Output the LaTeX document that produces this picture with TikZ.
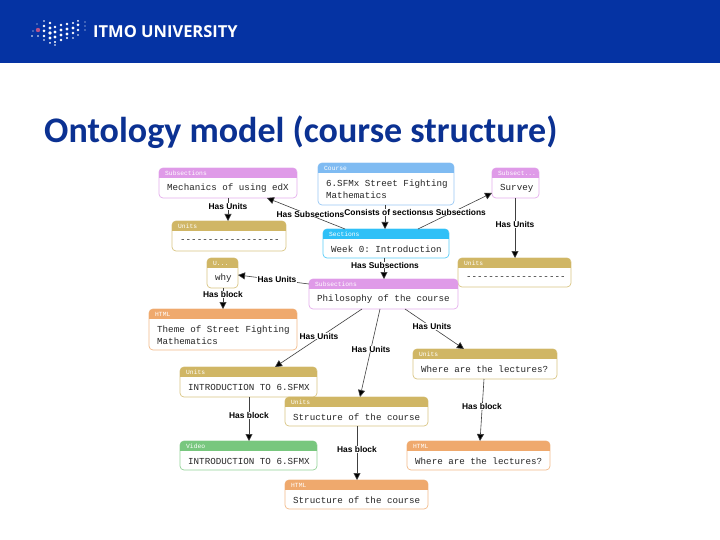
\documentclass[tikz,border=0pt]{standalone}
\usepackage{fontspec}
\usetikzlibrary{arrows.meta}
\setmainfont{Liberation Sans}
\setmonofont{Liberation Mono}
\newfontfamily\titlefont{Carlito}
\newfontfamily\logofont{Open Sans}
\definecolor{hdrblue}{HTML}{0533A3}
\definecolor{titleblue}{HTML}{0B3192}
\definecolor{cpurple}{HTML}{DF9AE8}
\definecolor{cgold}{HTML}{D0B665}
\definecolor{corange}{HTML}{EFA96D}
\definecolor{cgreen}{HTML}{78C77E}
\definecolor{cblue}{HTML}{7FBBF2}
\definecolor{ccyan}{HTML}{2FC0F7}
\newcommand{\umlbox}[8]{% name x1 y1 x2 y2 colour title text
  \node[umlnode,fill=white,draw=#6!80!white,minimum width={(#4-#2)*1pt},minimum height={(#5-#3)*1pt}] (#1) at ({(#2+#4)/2},{(#3+#5)/2}) {};
  \begin{scope}
    \clip[rounded corners=4pt] (#2,#3) rectangle (#4,#5);
    \fill[#6] (#2,#3) rectangle (#4,#3+10);
  \end{scope}
  \node[umltitle] (#1t) at (#2+6,#3+5.2) {#7};
  \node[umltext] (#1b) at (#2+8,{(#3+#5)/2+5.5}) {\spaceskip=.6em\relax #8};
}
\tikzset{
  x=1pt,y=-1pt,
  umlnode/.style={rectangle,rounded corners=4pt,line width=0.7pt,inner sep=0pt,outer sep=0pt},
  umltitle/.style={anchor=west,inner sep=0pt,text=white,font=\ttfamily\fontsize{6.3}{6.3}\selectfont},
  umltext/.style={anchor=west,align=left,inner sep=0pt,font=\ttfamily\fontsize{9.2}{11.8}\selectfont,text=black!85},
  edge/.style={draw=black!75,line width=0.6pt,-{Triangle[length=7pt,width=7pt,fill=black]}},
  elabel/.style={font=\bfseries\fontsize{8.4}{8.4}\selectfont,inner sep=0.4pt,fill=white,text=black},
}
\begin{document}
\begin{tikzpicture}
\useasboundingbox (0,0) rectangle (720,540);
\fill[white] (0,0) rectangle (720,540);
\fill[hdrblue] (0,0) rectangle (720,63);
% logo
\foreach \x/\y/\r in {
  32/36/.8, 33/31/.7, 37/24/.7, 38/36/.8,
  44/21/.9, 44/26/1.3, 44/31/1.5, 44/36/1.4, 44/40/.9,
  50/23/1.3, 50/28/1.6, 50/33/1.8, 50/38/1.6, 50/43/1,
  55/27/1.4, 55/32/1.7, 55/37/1.6, 55/42/1.2,
  61/25/1.4, 61/30/1.7, 61/35/1.7, 61/40/1.3, 55/45/.8,
  67/24/1.4, 67/29/1.7, 67/34/1.6, 67/38/1.2,
  73/23/1.2, 73/28/1.6, 73/33/1.4, 73/38/.9,
  78/21/1, 78/25/1.5, 78/30/1.3, 78/35/.9,
  85/22/.7, 85/26/.7, 85/30/.7}
  \fill[white] (\x,\y) circle (\r);
\fill[white!20!magenta!70!black] (38,30) circle (2.2);
\node[anchor=base west,inner sep=0pt,text=white,font=\logofont\bfseries\fontsize{16.5}{16.5}\selectfont] (logo) at (93,37.5) {ITMO UNIVERSITY};
\node[anchor=base west,inner sep=0pt,text=titleblue,font=\titlefont\bfseries\fontsize{36}{36}\selectfont] (title) at (44,143) {Ontology model (course structure)};
% boxes
\umlbox{sm}{159}{168}{297}{198}{cpurple}{Subsections}{Mechanics of using edX}
\umlbox{course}{318}{163}{454}{205}{cblue}{Course}{6.SFMx Street Fighting\\[0pt]Mathematics}
\umlbox{survey}{492}{168}{539}{198}{cpurple}{Subsect...}{Survey}
\umlbox{ua}{172}{221}{286}{251}{cgold}{Units}{------------------}
\umlbox{sec}{323}{229}{449}{258}{ccyan}{Sections}{Week 0: Introduction}
\umlbox{ub}{458}{258}{571}{287}{cgold}{Units}{------------------}
\umlbox{why}{207}{258}{238}{288}{cgold}{U...}{why}
\umlbox{phil}{309}{279}{458}{309}{cpurple}{Subsections}{Philosophy of the course}
\umlbox{theme}{149}{309}{297}{350}{corange}{HTML}{Theme of Street Fighting\\[0pt]Mathematics}
\umlbox{intro}{180}{367}{317}{397}{cgold}{Units}{INTRODUCTION TO 6.SFMX}
\umlbox{struct}{285}{397}{428}{426}{cgold}{Units}{Structure of the course}
\umlbox{where}{413}{349}{557}{379}{cgold}{Units}{Where are the lectures?}
\umlbox{video}{180}{441}{317}{470}{cgreen}{Video}{INTRODUCTION TO 6.SFMX}
\umlbox{hstruct}{285}{480}{428}{509}{corange}{HTML}{Structure of the course}
\umlbox{hwhere}{407}{441}{550}{470}{corange}{HTML}{Where are the lectures?}
% anchors on the box edges
\coordinate (e1a) at (sm.south -| 228,0);
\coordinate (e1b) at (ua.north -| 228,0);
\coordinate (e2a) at (sec.north -| 345,0);
\coordinate (e2b) at (sm.south -| 267,0);
\coordinate (e3a) at (course.south -| 385,0);
\coordinate (e3b) at (sec.north -| 385,0);
\coordinate (e4a) at (sec.north -| 418,0);
\coordinate (e4b) at (492,193);
\coordinate (e5a) at (survey.south -| 515,0);
\coordinate (e5b) at (ub.north -| 515,0);
\coordinate (e6a) at (sec.south -| 384,0);
\coordinate (e6b) at (phil.north -| 384,0);
\coordinate (e7a) at (309,284);
\coordinate (e7b) at (238,275);
\coordinate (e8a) at (why.south -| 223,0);
\coordinate (e8b) at (theme.north -| 223,0);
\coordinate (e9a) at (phil.south -| 362,0);
\coordinate (e9b) at (intro.north -| 275,0);
\coordinate (e10a) at (phil.south -| 380,0);
\coordinate (e10b) at (struct.north -| 360,0);
\coordinate (e11a) at (phil.south -| 405,0);
\coordinate (e11b) at (where.north -| 464,0);
\coordinate (e12a) at (intro.south -| 249,0);
\coordinate (e12b) at (video.north -| 249,0);
\coordinate (e13a) at (struct.south -| 357,0);
\coordinate (e13b) at (hstruct.north -| 357,0);
\coordinate (e14a) at (where.south -| 484,0);
\coordinate (e14b) at (hwhere.north -| 480,0);
% connectors
\foreach \i in {1,...,14} \draw[edge] (e\i a) -- (e\i b);
% labels
\node[elabel] (l1) at (228,206.5) {Has Units};
\node[elabel] (l2) at (310.5,214) {Has Subsections};
\node[elabel] (l4) at (452,212) {Has Subsections};
\node[elabel] (l3) at (385.5,212.5) {Consists of sections};
\node[elabel] (l5) at (515,224.5) {Has Units};
\node[elabel] (l6) at (385,265) {Has Subsections};
\node[elabel] (l7) at (277,279.5) {Has Units};
\node[elabel] (l8) at (223,294.5) {Has block};
\node[elabel] (l9) at (319,336) {Has Units};
\node[elabel] (l10) at (371,349) {Has Units};
\node[elabel] (l11) at (432,326.5) {Has Units};
\node[elabel] (l12) at (249,415.5) {Has block};
\node[elabel] (l13) at (357,449.5) {Has block};
\node[elabel] (l14) at (482,406.5) {Has block};
\end{tikzpicture}
\end{document}
